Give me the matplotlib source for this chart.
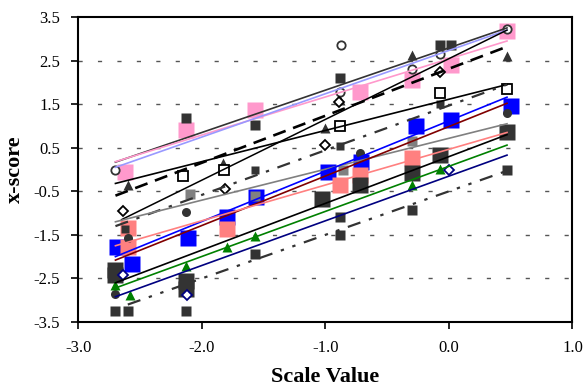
import numpy as np
import matplotlib
matplotlib.use("Agg")
import matplotlib.pyplot as plt

plt.rcParams['font.family'] = ['Liberation Serif', 'DejaVu Serif']

# marker points per series (scale value, x-score)
top_sq_x = [-2.13, -1.57, -0.88, -0.07, 0.02]
top_sq_y = [1.18, 1.02, 2.09, 2.86, 2.86]
pink_x = [-2.62, -2.13, -1.57, -0.72, -0.3, 0.02, 0.47]
pink_y = [-0.05, 0.9, 1.36, 1.78, 2.05, 2.4, 3.18]
circ_x = [-2.7, -0.87, -0.88, -0.3, -0.07, 0.47]
circ_y = [0.0, 2.86, 1.78, 2.3, 2.65, 3.22]
tri_x = [-2.6, -1.83, -1.0, -0.88, -0.3, 0.47]
tri_y = [-0.36, 0.14, 0.95, 1.6, 2.63, 2.6]
diam_x = [-2.64, -1.81, -1.0, -0.89, -0.07]
diam_y = [-0.96, -0.44, 0.56, 1.55, 2.24]
osq_x = [-2.15, -1.82, -0.88, -0.07, 0.47]
osq_y = [-0.16, -0.02, 0.99, 1.75, 1.84]
dd_x = [-2.62, -1.57, -0.88, -0.07, 0.47]
dd_y = [-1.37, 0.0, 0.53, 1.5, 1.9]
gray_x = [-2.1, -1.57, -0.86, -0.3]
gray_y = [-0.57, -0.6, 0.0, 0.65]
blue_x = [-2.69, -2.57, -2.11, -1.8, -1.56, -0.98, -0.71, -0.27, 0.02, 0.5]
blue_y = [-1.79, -2.16, -1.58, -1.1, -0.63, -0.06, 0.17, 0.99, 1.13, 1.45]
dcirc_x = [-2.7, -2.6, -2.13, -0.72, 0.47]
dcirc_y = [-2.85, -1.58, -0.98, 0.37, 1.3]
salmon_x = [-2.6, -2.6, -1.8, -0.88, -0.72, -0.3]
salmon_y = [-1.35, -1.79, -1.37, -0.36, -0.13, 0.26]
big_x = [-2.7, -2.7, -2.13, -2.13, -1.03, -0.72, -0.3, -0.07, 0.47]
big_y = [-2.3, -2.42, -2.55, -2.75, -0.68, -0.36, -0.09, 0.33, 0.86]
green_x = [-2.7, -2.58, -2.13, -1.8, -1.57, -0.3, -0.07]
green_y = [-2.64, -2.87, -2.22, -1.78, -1.53, -0.36, 0.01]
navy_x = [-2.64, -2.12, 0.0]
navy_y = [-2.43, -2.89, -0.02]
bot_x = [-2.7, -2.6, -2.13, -1.57, -0.88, -0.88, -0.3, 0.47]
bot_y = [-3.24, -3.24, -3.24, -1.95, -1.1, -1.5, -0.94, 0.0]

# trend line ends (x0, x1, y0, y1)
trend_top = (-2.7, 0.47, 0.17, 3.25)
trend_pink = (-2.7, 0.47, 0.18, 2.95)
trend_lblue = (-2.7, 0.47, 0.05, 3.2)
trend_dash = (-2.7, 0.47, -0.6, 2.82)
trend_steep = (-2.65, 0.47, -1.15, 3.2)
trend_osq = (-2.7, 0.47, -0.32, 1.95)
trend_dd = (-2.7, 0.47, -1.3, 1.95)
trend_gray = (-2.7, 0.47, -1.2, 1.05)
trend_blue = (-2.7, 0.47, -2.0, 1.66)
trend_dred = (-2.7, 0.47, -2.08, 1.52)
trend_salmon = (-2.7, 0.47, -1.75, 0.85)
trend_black = (-2.7, 0.47, -2.6, 0.8)
trend_green = (-2.7, 0.47, -2.72, 0.56)
trend_navy = (-2.7, 0.47, -2.92, 0.33)
trend_bot = (-2.6, 0.45, -3.1, -0.05)

fig = plt.figure(figsize=(5.85, 3.87), dpi=100)
ax = fig.add_axes([0.134, 0.168, 0.8446, 0.788])

for gy in [2.5, 1.5, 0.5, -0.5, -1.5, -2.5]:
    ax.axhline(gy, color='#555555', lw=1.0, ls=(0, (3, 11)), zorder=1)

dk = '#333333'
# markers
ax.plot(pink_x, pink_y, 's', ms=11, color='#FF99CC', mec='none', zorder=2)
ax.plot(blue_x, blue_y, 's', ms=11, color='#0000FF', mec='none', zorder=2)
ax.plot(salmon_x, salmon_y, 's', ms=11, color='#FF8080', mec='none', zorder=2)
ax.plot(big_x, big_y, 's', ms=11, color=dk, mec='none', zorder=2)
ax.plot(top_sq_x, top_sq_y, 's', ms=7.5, color=dk, mec='none', zorder=3)
ax.plot(gray_x, gray_y, 's', ms=6.5, color='#808080', mec='none', zorder=3)
ax.plot(dd_x, dd_y, 's', ms=5.5, color=dk, mec='none', zorder=3)
ax.plot(bot_x, bot_y, 's', ms=7, color=dk, mec='none', zorder=3)
ax.plot(circ_x, circ_y, 'o', ms=6, mfc='white', mec=dk, mew=1.3, zorder=3)
ax.plot(dcirc_x, dcirc_y, 'o', ms=6.5, color=dk, mec='none', zorder=3)
ax.plot(tri_x, tri_y, '^', ms=7, color=dk, mec='none', zorder=3)
ax.plot(green_x, green_y, '^', ms=7, color='#008000', mec='none', zorder=3)
ax.plot(diam_x, diam_y, 'D', ms=5, mfc='white', mec='black', mew=1.3, zorder=3)
ax.plot(navy_x, navy_y, 'D', ms=5, mfc='white', mec='#000080', mew=1.3, zorder=3)
ax.plot(osq_x, osq_y, 's', ms=7, mfc='white', mec='black', mew=1.3, zorder=3)

# trend lines
def trend(t, **kw):
    ax.plot([t[0], t[1]], [t[2], t[3]], zorder=4, **kw)

trend(trend_top, color=dk, lw=1.2)
trend(trend_pink, color='#FF99CC', lw=1.2)
trend(trend_lblue, color='#9999FF', lw=1.2)
trend(trend_dash, color='black', lw=1.9, ls=(0, (5, 3)))
trend(trend_steep, color='black', lw=1.1)
trend(trend_osq, color='black', lw=1.2)
trend(trend_dd, color=dk, lw=1.6, ls=(0, (6, 4, 1.5, 4)))
trend(trend_gray, color='#808080', lw=1.2)
trend(trend_blue, color='#0000FF', lw=1.2)
trend(trend_dred, color='#800000', lw=1.2)
trend(trend_salmon, color='#FF8080', lw=1.2)
trend(trend_black, color='black', lw=1.2)
trend(trend_green, color='#008000', lw=1.2)
trend(trend_navy, color='#000080', lw=1.2)
trend(trend_bot, color=dk, lw=1.6, ls=(0, (6, 4, 1.5, 4, 1.5, 4)))

ax.set_xlim(-3.0, 1.0)
ax.set_ylim(-3.5, 3.5)
ax.set_xticks([-3.0, -2.0, -1.0, 0.0, 1.0])
ax.set_xticklabels(['-3.0', '-2.0', '-1.0', '0.0', '1.0'])
ax.set_yticks(np.arange(-3.5, 3.6, 1.0))
ax.set_yticklabels(['-3.5', '-2.5', '-1.5', '-0.5', '0.5', '1.5', '2.5', '3.5'])
ax.tick_params(direction='out', length=5, width=1.2, labelsize=12, pad=8)
for s in ax.spines.values():
    s.set_linewidth(1.5)

ax.set_xlabel('Scale Value', fontsize=16, fontweight='bold', labelpad=8)
ax.set_ylabel('x-score', fontsize=16, fontweight='bold', labelpad=6)

fig.savefig('out.png', dpi=100)
